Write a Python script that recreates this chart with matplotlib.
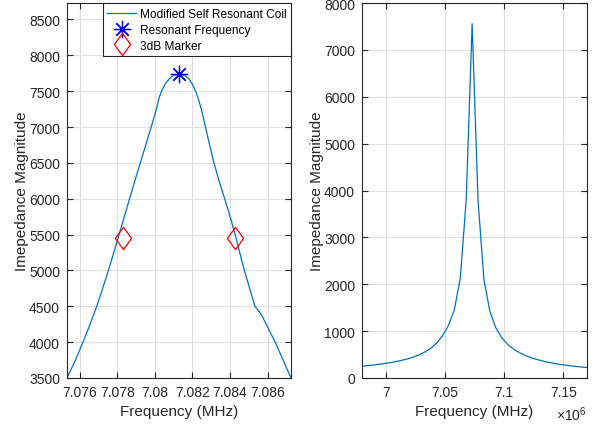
import numpy as np
import matplotlib
matplotlib.use("Agg")
import matplotlib.pyplot as plt
from matplotlib.path import Path
from matplotlib.ticker import FuncFormatter

plt.rcParams['font.family'] = ['Liberation Sans', 'DejaVu Sans']
plt.rcParams['mathtext.fontset'] = 'custom'
plt.rcParams['mathtext.rm'] = 'Liberation Sans'

# 左圖: 放大的共振峰 (MHz)
zoom_freq = [7.07533, 7.07578, 7.07618, 7.07656, 7.07691, 7.07723, 7.07753, 7.07782,
             7.07810, 7.07838, 7.07866, 7.07894, 7.07923, 7.07952, 7.07981, 7.08009,
             7.08022, 7.08036, 7.08055, 7.08080, 7.08100, 7.08130, 7.08160, 7.08180,
             7.08200, 7.08217, 7.08231, 7.08248, 7.08270, 7.08292, 7.08315, 7.08342,
             7.08372, 7.08401, 7.08428, 7.08452, 7.08477, 7.08505, 7.08533, 7.08556,
             7.08569, 7.08593, 7.08641, 7.08683, 7.08725]
zoom_mag = [3500, 3750, 4000, 4250, 4500, 4750, 5000, 5250,
            5500, 5750, 6000, 6250, 6500, 6750, 7000, 7250,
            7400, 7500, 7600, 7680, 7720, 7740, 7720, 7680,
            7600, 7500, 7400, 7250, 7000, 6750, 6500, 6250,
            6000, 5750, 5500, 5250, 5000, 4750, 4500, 4425,
            4377, 4250, 4000, 3750, 3500]
peak_freq = 7.08130
peak_mag = 7740
marker_freq = [7.07829, 7.08425]
marker_mag = [5458, 5458]

# 右圖: 全頻段 (MHz, 畫的時候轉成 Hz)
full_freq = [6.978, 6.983, 6.988, 6.993, 6.998, 7.003, 7.008, 7.013, 7.018, 7.023,
             7.028, 7.033, 7.038, 7.043, 7.048, 7.053, 7.058, 7.063, 7.068, 7.073,
             7.078, 7.083, 7.088, 7.093, 7.098, 7.103, 7.108, 7.113, 7.118, 7.123,
             7.128, 7.133, 7.138, 7.143, 7.148, 7.153, 7.158, 7.163, 7.168, 7.173]
full_mag = [245, 258, 272, 287, 305, 324, 347, 374, 405, 443,
            492, 553, 633, 745, 900, 1120, 1460, 2130, 3800, 7560,
            3780, 2090, 1420, 1070, 860, 718, 616, 540, 480, 432,
            393, 360, 332, 308, 288, 270, 254, 240, 228, 217]

blue = '#0072BD'
txt = '#262626'

diamond = Path([(0, 1), (0.73, 0), (0, -1), (-0.73, 0), (0, 1)],
               [Path.MOVETO, Path.LINETO, Path.LINETO, Path.LINETO, Path.CLOSEPOLY])

fig = plt.figure(figsize=(6.01, 4.27), dpi=100)
ax1 = fig.add_axes([67/601, 1-379/427, 224/601, 375/427])
ax2 = fig.add_axes([362/601, 1-379/427, 225/601, 375/427])


def style(ax):
    ax.grid(True, color='#e0e0e0', linewidth=0.8)
    ax.set_axisbelow(True)
    for s in ax.spines.values():
        s.set_color(txt)
        s.set_linewidth(0.8)
    ax.tick_params(direction='in', top=True, right=True, length=4, width=0.8,
                   colors=txt, labelsize=10, pad=5)
    ax.set_xlabel('Frequency (MHz)', fontsize=11, color=txt, labelpad=4)
    ax.set_ylabel('Imepedance Magnitude', fontsize=11, color=txt, labelpad=0)


ax1.plot(zoom_freq, zoom_mag, color=blue, lw=0.9, label='Modified Self Resonant Coil')
ax1.plot([peak_freq], [peak_mag], linestyle='none', marker=(8, 2, 0), ms=12.5,
         mec='#0000ff', mew=0.9, label='Resonant Frequency')
ax1.plot(marker_freq, marker_mag, linestyle='none', marker=diamond, ms=16,
         mfc='none', mec='#ff0000', mew=0.9, label='3dB Marker')
ax1.set_xlim(zoom_freq[0], zoom_freq[-1])
ax1.set_ylim(3500, 8730)
ax1.set_xticks([7.076, 7.078, 7.080, 7.082, 7.084, 7.086])
ax1.set_yticks(np.arange(3500, 8501, 500))
ax1.xaxis.set_major_formatter(FuncFormatter(lambda v, p: f"{v:g}"))
style(ax1)
leg = ax1.legend(loc='upper right', borderaxespad=0, fancybox=False, framealpha=1,
                 edgecolor=txt, fontsize=8.6, handlelength=2.4, borderpad=0.4,
                 labelspacing=0.33, handletextpad=0.3)
leg.get_frame().set_linewidth(0.8)

ax2.plot([f*1e6 for f in full_freq], full_mag, color=blue, lw=0.9)
ax2.set_xlim(6.98e6, 7.17e6)
ax2.set_ylim(0, 8000)
ax2.set_xticks([7.0e6, 7.05e6, 7.1e6, 7.15e6])
ax2.set_yticks(np.arange(0, 8001, 1000))
ax2.xaxis.set_major_formatter(FuncFormatter(lambda v, p: f"{v/1e6:g}"))
style(ax2)
ax2.text(1.0, -0.07, r'$\times10^{6}$', transform=ax2.transAxes, ha='right',
         va='top', fontsize=10, color=txt)

plt.savefig('out.png', dpi=100)
